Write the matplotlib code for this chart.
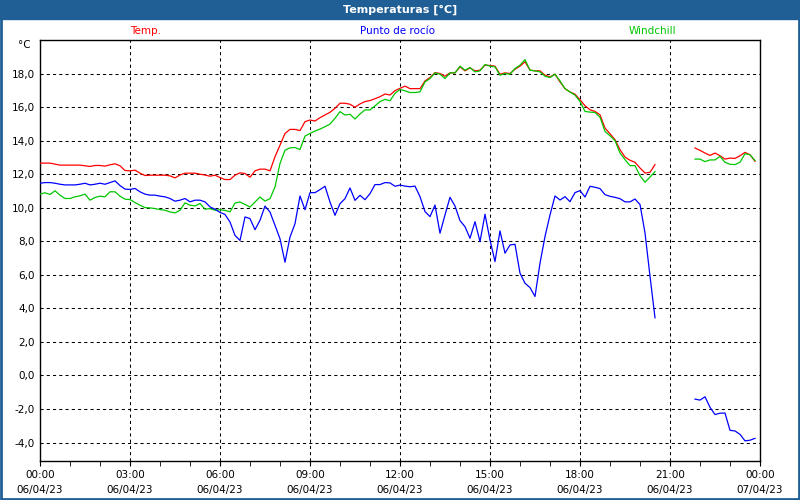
# -*- coding: utf-8 -*-
import numpy as np
import matplotlib.pyplot as plt
from matplotlib.patches import Rectangle
from matplotlib.ticker import MultipleLocator, FuncFormatter

# horas: cada 10 minutos, 00:00-20:30 y 21:50-23:50
horas_1 = [i / 6 for i in range(124)]
horas_2 = [21 + 5 / 6 + i / 6 for i in range(13)]

temp_1 = [12.66, 12.66, 12.66, 12.6, 12.54, 12.54, 12.54, 12.54, 12.54, 12.5,
          12.46, 12.52, 12.52, 12.48, 12.56, 12.62, 12.5, 12.22, 12.2, 12.24,
          12.06, 11.92, 11.94, 11.94, 11.94, 11.94, 11.9, 11.78, 11.95, 12.06,
          12.06, 12.06, 12.0, 11.95, 11.88, 11.94, 11.8,
          11.68, 11.68, 11.94, 12.08, 12.04, 11.82, 12.2, 12.3, 12.3, 12.2,
          13.04, 13.73, 14.43, 14.67, 14.67, 14.6, 15.13, 15.23, 15.17, 15.37,
          15.53, 15.69, 15.93, 16.23, 16.23, 16.17, 15.99, 16.19, 16.33, 16.39,
          16.5, 16.62, 16.78, 16.72, 16.98,
          17.12, 17.25, 17.1, 17.1, 17.1, 17.56, 17.76, 18.06, 18.0, 17.84,
          18.04, 18.04, 18.4, 18.16, 18.34, 18.16, 18.2, 18.5, 18.48, 18.44,
          17.96, 18.04, 18.0, 18.26, 18.44, 18.7, 18.2, 18.16, 18.16, 17.9,
          17.8, 17.96, 17.5, 17.1, 16.9, 16.77,
          16.44, 16.08, 15.84, 15.74, 15.54, 14.75, 14.41, 14.06, 13.46, 13.02,
          12.83, 12.71, 12.37, 12.07, 12.11, 12.57]
temp_2 = [13.56, 13.42, 13.26, 13.12, 13.26, 13.1, 12.9, 12.96, 12.94, 13.1,
          13.3, 13.16, 12.77]

rocio_1 = [11.46, 11.5, 11.5, 11.46, 11.4, 11.36, 11.36, 11.36, 11.4, 11.46,
           11.36, 11.4, 11.46, 11.4, 11.5, 11.6, 11.32, 11.11, 11.09, 11.15,
           10.95, 10.81, 10.75, 10.75, 10.69, 10.65, 10.55, 10.39, 10.45, 10.55,
           10.35, 10.45, 10.45, 10.35, 10.05, 9.91, 9.72,
           9.6, 9.15, 8.35, 8.05, 9.45, 9.35, 8.69, 9.25, 10.1, 9.74,
           8.95, 8.15, 6.75, 8.25, 9.05, 10.7, 9.88, 10.9, 10.9, 11.08,
           11.28, 10.34, 9.55, 10.24, 10.54, 11.18, 10.44, 10.74, 10.48, 10.84,
           11.38, 11.38, 11.5, 11.48, 11.28,
           11.35, 11.29, 11.25, 11.29, 10.66, 9.77, 9.47, 10.16, 8.48, 9.57,
           10.62, 10.1, 9.23, 8.87, 8.18, 9.17, 7.98, 9.61, 8.08, 6.79,
           8.62, 7.29, 7.78, 7.82, 6.1, 5.5, 5.24, 4.71, 6.69, 8.28,
           9.57, 10.7, 10.46, 10.66, 10.36, 10.9,
           11.02, 10.64, 11.28, 11.22, 11.14, 10.78, 10.68, 10.62, 10.54, 10.35,
           10.35, 10.52, 10.19, 8.5, 5.92, 3.44]
rocio_2 = [-1.41, -1.47, -1.27, -1.9, -2.33, -2.25, -2.24, -3.27, -3.31, -3.51,
           -3.9, -3.86, -3.75]

wind_1 = [10.81, 10.89, 10.79, 11.01, 10.75, 10.55, 10.55, 10.65, 10.71, 10.81,
          10.45, 10.61, 10.69, 10.65, 10.95, 10.95, 10.69, 10.51, 10.49, 10.31,
          10.15, 10.01, 9.99, 9.95, 9.89, 9.85, 9.75, 9.69, 9.85, 10.29,
          10.15, 10.11, 10.25, 9.91, 9.95, 9.85, 9.88,
          9.84, 9.76, 10.28, 10.34, 10.2, 10.04, 10.34, 10.64, 10.4, 10.54,
          11.24, 12.64, 13.43, 13.57, 13.59, 13.47, 14.27, 14.43, 14.57, 14.69,
          14.83, 14.99, 15.33, 15.73, 15.53, 15.57, 15.29, 15.59, 15.83, 15.83,
          16.07, 16.33, 16.46, 16.38, 16.82,
          17.05, 16.97, 16.87, 16.87, 16.91, 17.5, 17.7, 18.04, 17.96, 17.7,
          18.04, 18.04, 18.44, 18.2, 18.36, 18.1, 18.16, 18.54, 18.44, 18.4,
          17.9, 18.0, 17.96, 18.3, 18.5, 18.83, 18.2, 18.16, 18.1, 17.84,
          17.76, 17.96, 17.56, 17.1, 16.9, 16.71,
          16.34, 15.74, 15.7, 15.68, 15.4, 14.55, 14.29, 14.0, 13.26, 12.87,
          12.51, 12.51, 11.91, 11.52, 11.83, 12.15]
wind_2 = [12.9, 12.9, 12.75, 12.85, 12.85, 13.06, 12.71, 12.59, 12.57, 12.71,
          13.22, 13.16, 12.81]

etiquetas_x = ['00:00\n06/04/23', '03:00\n06/04/23', '06:00\n06/04/23',
               '09:00\n06/04/23', '12:00\n06/04/23', '15:00\n06/04/23',
               '18:00\n06/04/23', '21:00\n06/04/23', '00:00\n07/04/23']

azul = '#1f5f96'
rojo = '#ff0000'
verde = '#00c800'
azul_linea = '#0000ff'

plt.rcParams['font.family'] = ['DejaVu Sans']

fig = plt.figure(figsize=(8, 5), dpi=100, facecolor='white')
ax = fig.add_axes([0.05, 0.078, 0.90, 0.842])

# series (con hueco entre 20:30 y 21:50)
for h, y, c in [(horas_1, temp_1, rojo), (horas_2, temp_2, rojo),
                (horas_1, wind_1, verde), (horas_2, wind_2, verde),
                (horas_1, rocio_1, azul_linea), (horas_2, rocio_2, azul_linea)]:
    ax.plot(h, y, color=c, lw=0.9, zorder=3)

ax.set_xlim(0, 24)
ax.set_ylim(-5.1, 20.0)
ax.xaxis.set_major_locator(MultipleLocator(3))
ax.xaxis.set_minor_locator(MultipleLocator(1))
ax.set_xticks(np.arange(0, 25, 3))
ax.set_xticklabels(etiquetas_x, fontsize=7.5, linespacing=1.6)
ax.set_yticks(np.arange(-4, 19, 2))
ax.yaxis.set_major_formatter(FuncFormatter(lambda v, p: ('%.1f' % v).replace('.', ',')))
ax.tick_params(axis='y', length=0, pad=4, labelsize=7.5)
ax.tick_params(axis='x', which='major', length=3.5, pad=3, direction='out')
ax.tick_params(axis='x', which='minor', length=3.5, direction='out')
ax.grid(True, color='black', linestyle=(0, (3, 3)), lw=0.75)
for s in ax.spines.values():
    s.set_linewidth(1.0)

ax.text(-0.3, 19.7, '°C', ha='right', va='center', fontsize=7.5)

# barra de título
fig.patches.append(Rectangle((0, 0.962), 1, 0.038, transform=fig.transFigure,
                             color=azul, zorder=0))
fig.patches.append(Rectangle((0.001, 0.002), 0.998, 0.996, transform=fig.transFigure,
                             fill=False, edgecolor=azul, lw=2, zorder=0))
fig.text(0.5, 0.981, 'Temperaturas [°C]', color='white', fontsize=8,
         fontweight='bold', ha='center', va='center')

# leyenda como textos de color
fig.text(0.182, 0.937, 'Temp.', color=rojo, fontsize=7.5, ha='center', va='center')
fig.text(0.497, 0.937, 'Punto de rocío', color=azul_linea, fontsize=7.5, ha='center', va='center')
fig.text(0.815, 0.937, 'Windchill', color=verde, fontsize=7.5, ha='center', va='center')

plt.savefig('out.png', dpi=100, facecolor='white')
